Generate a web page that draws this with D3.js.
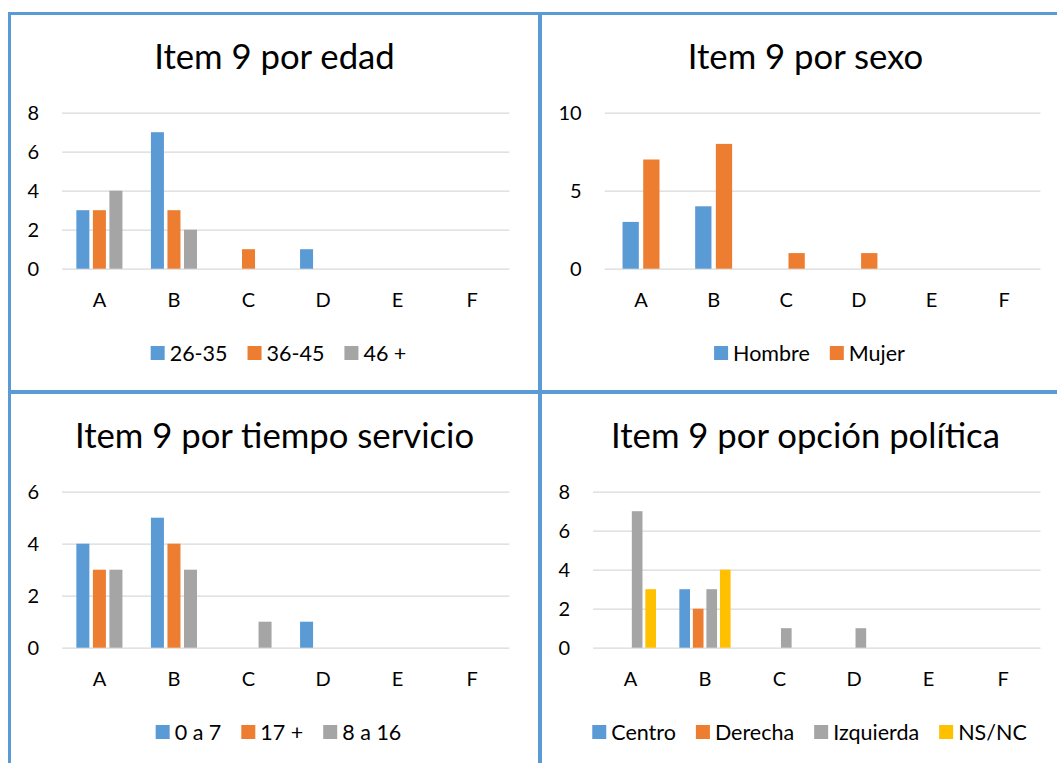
<!DOCTYPE html>
<html>
<head>
<meta charset="utf-8">
<script src="https://cdn.jsdelivr.net/npm/d3@7"></script>
<style>
  html, body { margin: 0; padding: 0; background: #fff; }
  svg { display: block; }
  text { font-family: Lato, "Noto Sans", sans-serif; fill: #000; }
</style>
</head>
<body>
<svg id="chart" width="1057" height="763"></svg>
<script>
// Answer categories shared by every panel
const categories = ["A", "B", "C", "D", "E", "F"];

// Item 9 por edad
const edadSeries = ["26-35", "36-45", "46 +"];
const edad2635 = [3, 7, 0, 1, 0, 0];
const edad3645 = [3, 3, 1, 0, 0, 0];
const edad46 = [4, 2, 0, 0, 0, 0];
const edadTicks = [0, 2, 4, 6, 8];

// Item 9 por sexo
const sexoSeries = ["Hombre", "Mujer"];
const sexoHombre = [3, 4, 0, 0, 0, 0];
const sexoMujer = [7, 8, 1, 1, 0, 0];
const sexoTicks = [0, 5, 10];

// Item 9 por tiempo servicio
const tiempoSeries = ["0 a 7", "17 +", "8 a 16"];
const tiempo0a7 = [4, 5, 0, 1, 0, 0];
const tiempo17 = [3, 4, 0, 0, 0, 0];
const tiempo8a16 = [3, 3, 1, 0, 0, 0];
const tiempoTicks = [0, 2, 4, 6];

// Item 9 por opción política
const politicaSeries = ["Centro", "Derecha", "Izquierda", "NS/NC"];
const politicaCentro = [0, 3, 0, 0, 0, 0];
const politicaDerecha = [0, 2, 0, 0, 0, 0];
const politicaIzquierda = [7, 3, 1, 1, 0, 0];
const politicaNsnc = [3, 4, 0, 0, 0, 0];
const politicaTicks = [0, 2, 4, 6, 8];

const palette = ["#5B9BD5", "#ED7D31", "#A5A5A5", "#FFC000"];

const panels = [
  { title: "Item 9 por edad", series: edadSeries, values: [edad2635, edad3645, edad46], ticks: edadTicks, col: 0, row: 0 },
  { title: "Item 9 por sexo", series: sexoSeries, values: [sexoHombre, sexoMujer], ticks: sexoTicks, col: 1, row: 0 },
  { title: "Item 9 por tiempo servicio", series: tiempoSeries, values: [tiempo0a7, tiempo17, tiempo8a16], ticks: tiempoTicks, col: 0, row: 1 },
  { title: "Item 9 por opción política", series: politicaSeries, values: [politicaCentro, politicaDerecha, politicaIzquierda, politicaNsnc], ticks: politicaTicks, col: 1, row: 1 }
];

// Panel frame geometry
const frameX = [9.5, 540.5];
const frameY = [13.5, 392.5];
const frameW = 530;
const frameH = 378;

// Excel-style clustered column spacing
const gapWidth = 2.19;
const overlap = -0.27;

const titleSize = "34.7px";
const axisSize = "20px";
const legendSize = "21.5px";

const svg = d3.select("#chart");

panels.forEach(p => {
  const px = frameX[p.col];
  const py = frameY[p.row];
  const g = svg.append("g");

  g.append("rect")
    .attr("x", px).attr("y", py)
    .attr("width", frameW).attr("height", frameH)
    .attr("fill", "#fff")
    .attr("stroke", "#5B9BD5")
    .attr("stroke-width", 3);

  // Title
  g.append("text")
    .attr("x", px + frameW / 2)
    .attr("y", py + 55.8)
    .attr("text-anchor", "middle")
    .style("font-size", titleSize)
    .text(p.title);

  // Measure the widest value label to size the left margin
  const probe = g.append("text").style("font-size", axisSize);
  let labelW = 0;
  p.ticks.forEach(t => {
    probe.text(String(t));
    labelW = Math.max(labelW, probe.node().getComputedTextLength());
  });
  probe.remove();

  const left = px + 41 + labelW;
  const right = px + 500;
  const top = py + 99.2;
  const bottom = py + 255.2;

  const y = d3.scaleLinear()
    .domain([0, d3.max(p.ticks)])
    .range([bottom, top]);

  const x0 = d3.scaleBand()
    .domain(categories)
    .range([left, right])
    .paddingInner(0)
    .paddingOuter(0);

  const n = p.series.length;
  const gap = -overlap;
  const barW = x0.bandwidth() / (n + (n - 1) * gap + gapWidth);
  const groupW = n * barW + (n - 1) * gap * barW;

  const x1 = d3.scaleBand()
    .domain(p.series)
    .range([0, groupW])
    .paddingInner(gap / (1 + gap))
    .paddingOuter(0);

  // Gridlines and value labels
  const yAxis = d3.axisLeft(y)
    .tickValues(p.ticks)
    .tickSize(-(right - left))
    .tickPadding(23)
    .tickFormat(d3.format("d"));

  const ya = g.append("g")
    .attr("transform", `translate(${left},0)`)
    .call(yAxis);
  ya.select(".domain").remove();
  ya.selectAll(".tick line")
    .attr("stroke", "#D9D9D9")
    .attr("stroke-width", 1.3);
  ya.selectAll(".tick text")
    .style("font-size", axisSize)
    .style("font-family", "Lato, 'Noto Sans', sans-serif")
    .attr("fill", "#000");

  // Category labels
  const xAxis = d3.axisBottom(x0).tickSize(0).tickPadding(0);
  const xa = g.append("g")
    .attr("transform", `translate(0,${py + 293.6})`)
    .call(xAxis);
  xa.select(".domain").remove();
  xa.selectAll(".tick text")
    .attr("dy", 0)
    .attr("y", 0)
    .style("font-size", axisSize)
    .style("font-family", "Lato, 'Noto Sans', sans-serif")
    .attr("fill", "#000");

  // Bars
  p.series.forEach((s, si) => {
    const groupStart = c => x0(c) + (x0.bandwidth() - groupW) / 2;
    g.append("g")
      .selectAll("rect")
      .data(categories.map((c, ci) => ({ c, v: p.values[si][ci] })).filter(d => d.v > 0))
      .join("rect")
      .attr("x", d => groupStart(d.c) + x1(s))
      .attr("width", x1.bandwidth())
      .attr("y", d => y(d.v))
      .attr("height", d => y(0) - y(d.v))
      .attr("fill", palette[si]);
  });

  // Legend
  const leg = g.append("g");
  let cx = 0;
  p.series.forEach((s, si) => {
    const it = leg.append("g");
    it.append("rect")
      .attr("x", 0).attr("y", 0)
      .attr("width", 14).attr("height", 14)
      .attr("fill", palette[si]);
    const t = it.append("text")
      .attr("x", 19).attr("y", 14.5)
      .style("font-size", legendSize)
      .text(s);
    const w = 19 + t.node().getComputedTextLength();
    it.attr("transform", `translate(${cx},0)`);
    cx += w + 20;
  });
  const legW = cx - 20;
  leg.attr("transform", `translate(${px + frameW / 2 + 4 - legW / 2},${py + 332.5})`);
});
</script>
</body>
</html>
